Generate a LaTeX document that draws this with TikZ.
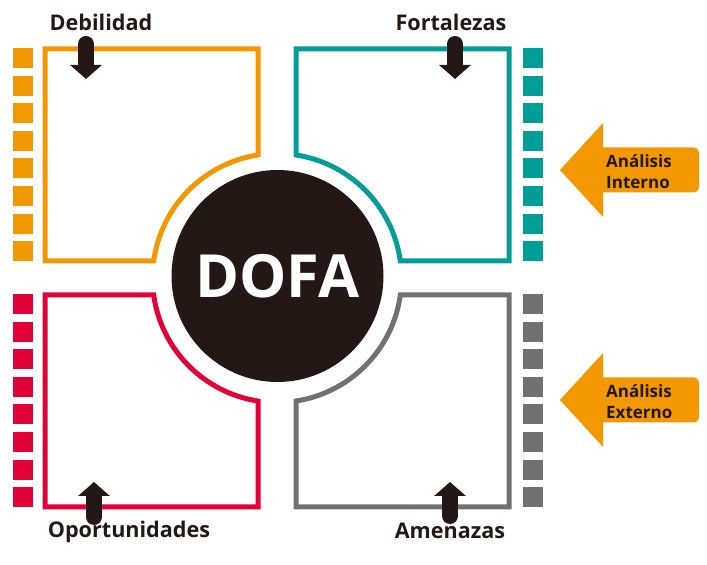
\documentclass[tikz,border=0pt]{standalone}
\usepackage{fontspec}
\setmainfont{Open Sans}
\usetikzlibrary{arrows.meta}
\definecolor{dofaorange}{RGB}{243,152,0}
\definecolor{dofateal}{RGB}{0,158,150}
\definecolor{dofared}{RGB}{225,0,55}
\definecolor{dofagray}{RGB}{114,113,113}
\definecolor{dofadark}{RGB}{35,24,21}

\begin{document}
\begin{tikzpicture}[x=1pt,y=1pt,
    quad/.style={line width=5pt},
    tag/.style={font=\fontsize{21.6}{25}\selectfont\bfseries,text=dofadark,inner sep=0pt,anchor=base},
    pointer/.style={draw=dofadark,line width=16pt,line cap=round,-{Triangle[length=14pt,width=31pt]}},
    side/.style={font=\fontsize{17}{21}\selectfont\bfseries,text=dofadark,align=left,inner sep=0pt,anchor=west}]
  \useasboundingbox (0,0) rectangle (707,565);
  \coordinate (c) at (277,287);
  % quadrants
  \foreach \sx/\sy/\col in {-1/1/dofaorange,1/1/dofateal,-1/-1/dofared,1/-1/dofagray}
    \draw[quad,draw=\col,shift={(c)},xscale=\sx,yscale=\sy]
      (19,229) -- (232,229) -- (232,17) -- (7.85:124.5)
      arc[start angle=7.85,end angle=81.22,radius=124.5] -- cycle;
  % side squares
  \foreach \i in {0,...,7} {
    \fill[dofaorange] (13,{517-27.6*\i}) rectangle ++(20,-20);
    \fill[dofateal] (522.5,{517-27.6*\i}) rectangle ++(20,-20);
    \fill[dofared] (13,{271-27.6*\i}) rectangle ++(20,-20);
    \fill[dofagray] (522.5,{271-27.6*\i}) rectangle ++(20,-20);
  }
  % centre
  \node[circle,fill=dofadark,minimum size=212pt,inner sep=0pt,text=white,
    font=\fontsize{59.5}{60}\selectfont\bfseries] (dofa) at (277.5,289) {DOFA};
  % labels and pointers
  \node[tag] (deb) at (101,534) {Debilidad};
  \node[tag] (fort) at (451,534) {Fortalezas};
  \node[tag] (opor) at (129,27) {Oportunidades};
  \node[tag] (amen) at (450,26) {Amenazas};
  \coordinate (debtail) at (86,521);
  \coordinate (debtip) at (86,486);
  \coordinate (forttail) at (455,521);
  \coordinate (forttip) at (455,486);
  \coordinate (oportail) at (94,48);
  \coordinate (oportip) at (94,83);
  \coordinate (amentail) at (450,49);
  \coordinate (amentip) at (450,83);
  \draw[pointer] (debtail) -- (debtip);
  \draw[pointer] (forttail) -- (forttip);
  \draw[pointer] (oportail) -- (oportip);
  \draw[pointer] (amentail) -- (amentip);
  % analysis arrows
  \foreach \y/\txt in {395/Interno,165/Externo} {
    \fill[dofaorange] (560,\y) -- (603,{\y+47}) -- (603,{\y-47}) -- cycle;
    \fill[dofaorange,rounded corners=5pt] (596,{\y-22.5}) rectangle (699,{\y+22.5});
    \node[side] (an\txt) at (606,{\y-2}) {Análisis\\\txt};
  }
\end{tikzpicture}
\end{document}
